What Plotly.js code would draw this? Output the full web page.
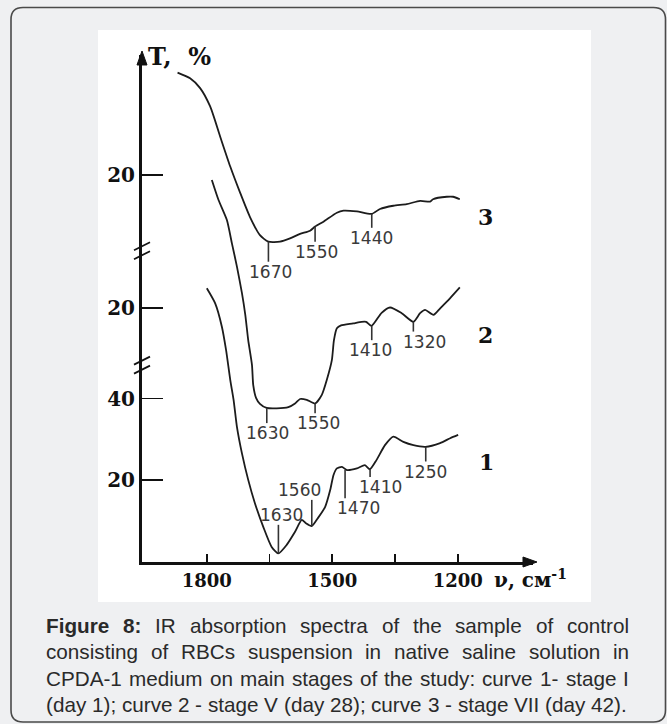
<!DOCTYPE html>
<html>
<head>
<meta charset="utf-8">
<script src="https://cdn.plot.ly/plotly-3.0.1.min.js"></script>
<style>html,body{margin:0;padding:0;background:#eff0f2;}#chart{width:667px;height:724px;}</style>
</head>
<body>
<div id="chart"></div>
<script>
// ---------- data (wavenumber, cm^-1  /  offset transmittance units) ----------
const curve3V = [1870,1840,1816,1792,1768,1744,1720,1697,1673,1653,1625,1601,1577,1553,1541,1521,1489,1473,1441,1406,1386,1354,1322,1290,1266,1259,1226,1211,1195];
const curve3T = [119.8,118.4,116.0,111.5,104.1,96.8,90.3,84.5,80.0,78.4,78.4,79.2,80.3,81.1,82.1,83.3,85.5,86.0,85.8,85.2,86.4,87.2,87.6,88.4,88.2,88.8,89.4,89.4,88.8];

const curve2V = [1788,1772,1752,1740,1728,1716,1708,1701,1692,1689,1682,1673,1657,1633,1605,1589,1577,1561,1541,1525,1513,1501,1496,1489,1479,1450,1430,1419,1406,1382,1362,1334,1306,1290,1278,1258,1242,1218,1195];
const curve2T = [93.5,88.6,83.7,78.0,72.3,65.8,60.5,54.3,48.2,43.3,40.1,38.7,37.7,37.6,37.9,38.8,39.9,39.7,38.8,40.9,44.6,49.4,54.3,57.2,57.9,58.4,58.8,58.8,57.8,61.0,62.3,60.9,58.8,60.9,61.7,60.5,62.1,64.6,67.2];

const curve1V = [1800,1780,1764,1754,1744,1736,1728,1716,1701,1685,1665,1645,1629,1609,1589,1573,1563,1549,1534,1517,1505,1497,1489,1477,1465,1441,1422,1410,1394,1374,1354,1330,1306,1277,1242,1218,1199];
const curve1T = [67.0,63.3,57.6,51.9,44.6,39.7,33.1,26.6,20.1,14.4,8.6,3.7,2.1,4.2,7.4,10.3,9.5,8.8,10.8,13.5,17.6,21.3,22.9,23.3,22.5,22.9,23.7,22.7,25.0,28.6,30.7,29.4,28.6,28.2,29.1,30.3,31.1];

// marked bands
const peakLabel = ['1670','1550','1440','1630','1550','1410','1320','1630','1560','1470','1410','1250'];
const peakV     = [1652.7,1541.1,1405.6,1656.6,1541.1,1405.6,1306.1,1628.8,1549.0,1469.4,1409.6,1276.5];
const peakOnT   = [78.4,82.1,85.2,37.7,38.8,57.8,58.8,2.1,8.8,22.6,22.7,28.2];
const peakEndT  = [73.5,78.4,81.8,34.0,36.4,54.3,56.4,9.1,15.2,15.6,20.8,24.6];

// axis ticks
const xTickVals = [1800,1500,1200];
const xTickText = ['1800','1500','1200'];
const xMinorVals = [1650,1350];
const yTickVals = [20,40,62.2,94.7];
const yTickText = ['20','40','20','20'];
const breakT = [76.2,48.2];

const curveNames = ['1','2','3'];
const curveNameV = [1132,1134,1134];
const curveNameT = [24.5,55.6,84.5];

const captionLines = [
  'Figure 8: IR absorption spectra of the sample of control',
  'consisting of RBCs suspension in native saline solution in',
  'CPDA-1 medium on main stages of the study: curve 1- stage I',
  '(day 1); curve 2 - stage V (day 28); curve 3 - stage VII (day 42).'
];

// ---------- layout geometry ----------
const W = 667, H = 724;
const M = {l:142, r:134, t:55, b:162};
const PW = W - M.l - M.r, PH = H - M.t - M.b;
const px2x = p => (p - M.l) / PW;
const px2y = p => (H - M.b - p) / PH;

const lineStyle = {color:'#1c1c1c', width:1.8, shape:'spline', smoothing:0.6};
const traces = [
  {x:curve1V, y:curve1T, mode:'lines', line:lineStyle, hoverinfo:'skip'},
  {x:curve2V, y:curve2T, mode:'lines', line:lineStyle, hoverinfo:'skip'},
  {x:curve3V, y:curve3T, mode:'lines', line:lineStyle, hoverinfo:'skip'}
];
const tx = [], ty = [];
peakV.forEach((v,i) => { tx.push(v, v, null); ty.push(peakOnT[i], peakEndT[i], null); });
traces.push({x:tx, y:ty, mode:'lines', line:{color:'#333', width:1.6}, hoverinfo:'skip'});

const labelXShift = [2,1,0,1,3,-1,11,3,-12,13,10,0];
const annotations = [];
peakLabel.forEach((t,i) => {
  const below = peakEndT[i] < peakOnT[i];
  annotations.push({x:peakV[i], y:peakEndT[i], xref:'x', yref:'y', text:t, showarrow:false,
    xanchor:'center', yanchor:'middle', yshift: below ? -10 : 10, xshift: labelXShift[i],
    font:{family:'DejaVu Sans', size:17, color:'#3a3a3a'}});
});
curveNames.forEach((t,i) => {
  annotations.push({x:curveNameV[i], y:curveNameT[i], xref:'x', yref:'y', text:t, showarrow:false,
    xanchor:'center', yanchor:'middle', font:{family:'DejaVu Serif', size:22, weight:'bold', color:'#111'}});
});
// axis titles
annotations.push({x:px2x(146), y:px2y(56), xref:'paper', yref:'paper', text:'T,  %', showarrow:false,
  xanchor:'left', yanchor:'middle', font:{family:'DejaVu Serif', size:24, weight:'bold', color:'#111'}});
annotations.push({x:px2x(492), y:px2y(579), xref:'paper', yref:'paper', text:'ν, см<sup>-1</sup>', showarrow:false,
  xanchor:'left', yanchor:'middle', font:{family:'DejaVu Serif', size:20, weight:'bold', color:'#111'}});

// caption (justified by measuring words)
const capSize = 20.7, capFam = 'Liberation Sans';
const cv = document.createElement('canvas').getContext('2d');
const capLeft = 45, capRight = 628;
const capCenters = [625.5, 651.5, 678, 704];
captionLines.forEach((line, li) => {
  const words = line.split(' ');
  const info = words.map((w, wi) => {
    const bold = (li === 0 && wi < 2);
    cv.font = (bold ? 'bold ' : '') + capSize + 'px "' + capFam + '"';
    return {w, bold, width: cv.measureText(w).width};
  });
  cv.font = capSize + 'px "' + capFam + '"';
  const sp = cv.measureText(' ').width;
  const total = info.reduce((s,o)=>s+o.width,0);
  const justify = li < captionLines.length - 1;
  const gap = justify ? (capRight - capLeft - total) / (words.length - 1) : sp;
  let xp = capLeft;
  info.forEach(o => {
    annotations.push({x:px2x(xp - 1), y:px2y(capCenters[li]), xref:'paper', yref:'paper',
      text: o.bold ? '<b>' + o.w + '</b>' : o.w, showarrow:false, xanchor:'left', yanchor:'middle',
      font:{family:capFam, size:capSize, color:'#2a2a2a'}});
    xp += o.width + gap;
  });
});

// shapes: white figure panel, rounded frame, axis breaks, arrow heads
const shapes = [];
shapes.push({type:'rect', xref:'paper', yref:'paper', x0:px2x(98), x1:px2x(591), y0:px2y(602), y1:px2y(30),
  fillcolor:'#ffffff', line:{width:0}, layer:'below'});
const L=11, T0=7.5, R=665.5, B=722, r=12;
const P = (a,b) => px2x(a).toFixed(5) + ',' + px2y(b).toFixed(5);
const framePath = 'M' + P(L+r,T0) + ' L' + P(R-r,T0) + ' Q' + P(R,T0) + ' ' + P(R,T0+r) +
  ' L' + P(R,B-r) + ' Q' + P(R,B) + ' ' + P(R-r,B) + ' L' + P(L+r,B) + ' Q' + P(L,B) + ' ' + P(L,B-r) +
  ' L' + P(L,T0+r) + ' Q' + P(L,T0) + ' ' + P(L+r,T0) + ' Z';
shapes.push({type:'path', xref:'paper', yref:'paper', path:framePath, line:{color:'#4a4a4a', width:1.6}, layer:'below'});
const dx = 8 / PW, dyU = 4 / (PH / 124.1);
breakT.forEach(b => {
  [-1.1, 1.1].forEach(o => {
    shapes.push({type:'line', xref:'paper', yref:'y', x0:-dx, x1:dx, y0:b + o - dyU, y1:b + o + dyU,
      line:{color:'#111', width:1.8}});
  });
});
const ax0 = M.l, axY = H - M.b;
shapes.push({type:'path', xref:'paper', yref:'paper', fillcolor:'#111', line:{color:'#111', width:1},
  path:'M' + P(ax0, 51) + ' L' + P(ax0 - 5, 65) + ' L' + P(ax0 + 5, 65) + ' Z'});
shapes.push({type:'path', xref:'paper', yref:'paper', fillcolor:'#111', line:{color:'#111', width:1},
  path:'M' + P(537, axY) + ' L' + P(523, axY - 5) + ' L' + P(523, axY + 5) + ' Z'});

const layout = {
  width:W, height:H, margin:M, showlegend:false,
  paper_bgcolor:'#eff0f2', plot_bgcolor:'rgba(0,0,0,0)',
  xaxis:{range:[1955,1020], showline:true, linewidth:3, linecolor:'#111', ticks:'inside', ticklen:8,
    tickwidth:1.6, tickcolor:'#111', tickmode:'array', tickvals:xTickVals, ticktext:xTickText,
    minor:{tickmode:'array', tickvals:xMinorVals, ticks:'inside', ticklen:8, tickwidth:1.6, tickcolor:'#111', showgrid:false},
    showgrid:false, zeroline:false,
    tickfont:{family:'DejaVu Serif', size:18, weight:'bold', color:'#111'}, fixedrange:true},
  yaxis:{range:[0,124.1], showline:true, linewidth:3, linecolor:'#111', ticks:'inside', ticklen:21,
    tickwidth:1.6, tickcolor:'#111', tickvals:yTickVals, ticktext:yTickText, showgrid:false, zeroline:false,
    tickfont:{family:'DejaVu Serif', size:20, weight:'bold', color:'#111'}, fixedrange:true},
  annotations, shapes
};
Plotly.newPlot('chart', traces, layout, {staticPlot:true, displayModeBar:false});
</script>
</body>
</html>
